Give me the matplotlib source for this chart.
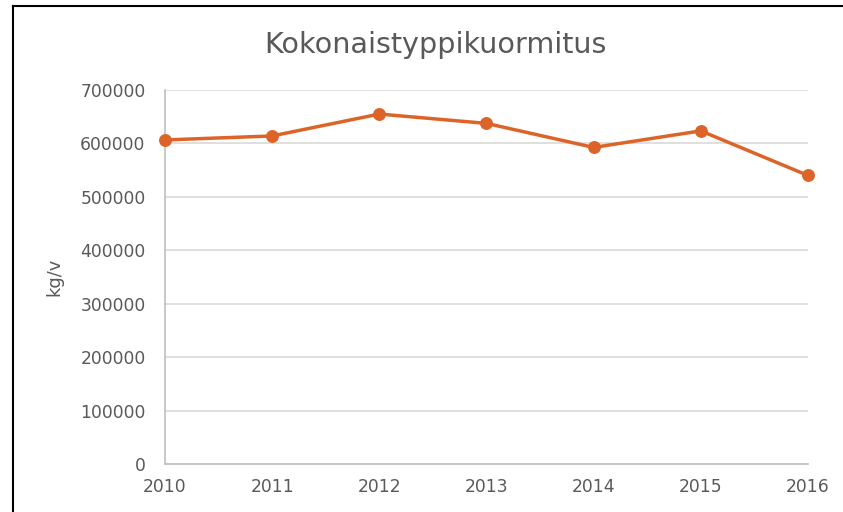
import matplotlib
matplotlib.use("Agg")
import matplotlib.pyplot as plt
from matplotlib.lines import Line2D

years = [2010, 2011, 2012, 2013, 2014, 2015, 2016]
load_kg = [606500, 614000, 655000, 637500, 592500, 623500, 540000]
yticks = [0, 100000, 200000, 300000, 400000, 500000, 600000, 700000]

TEXT = "#595959"
ORANGE = "#DD6428"

plt.rcParams["font.family"] = ["DejaVu Sans"]

fig = plt.figure(figsize=(8.43, 5.12), dpi=100)
ax = fig.add_axes([165 / 843, 1 - 464 / 512, (808 - 165) / 843, (464 - 90) / 512])

ax.plot(years, load_kg, color=ORANGE, linewidth=2.5, marker="o",
        markersize=8.3, zorder=3, clip_on=False)

ax.set_xlim(2010, 2016)
ax.set_ylim(0, 700000)
ax.set_yticks(yticks)
ax.set_yticklabels([str(v) for v in yticks])
ax.set_xticks(years)
ax.set_xticklabels([str(y) for y in years])
ax.grid(axis="y", color="#D9D9D9", linewidth=1.2, zorder=0)
ax.tick_params(axis="both", length=0, labelsize=12.3, colors=TEXT)
ax.tick_params(axis="y", pad=14)
ax.tick_params(axis="x", pad=10)
for s in ["top", "right"]:
    ax.spines[s].set_visible(False)
for s in ["left", "bottom"]:
    ax.spines[s].set_color("#BFBFBF")
    ax.spines[s].set_linewidth(1.2)

ax.set_ylabel("kg/v", fontsize=12.8, color=TEXT, labelpad=12)
fig.text(435 / 843, 1 - 45 / 512, "Kokonaistyppikuormitus", fontsize=20.6,
         color=TEXT, ha="center", va="center")

# outer frame (left and top visible in reference)
fig.add_artist(Line2D([13 / 843, 13 / 843], [0, 1 - 6 / 512],
                      transform=fig.transFigure, color="black", linewidth=1.5))
fig.add_artist(Line2D([13 / 843, 1], [1 - 6 / 512, 1 - 6 / 512],
                      transform=fig.transFigure, color="black", linewidth=1.5))

fig.savefig("out.png", dpi=100)
